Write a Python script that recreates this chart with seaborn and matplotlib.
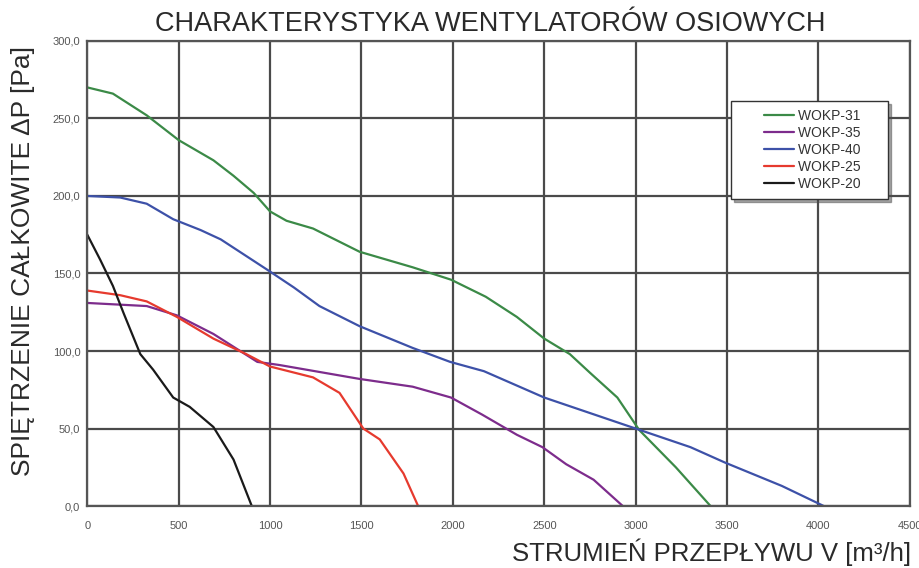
import matplotlib
matplotlib.use("Agg")
import matplotlib.pyplot as plt
import seaborn as sns
import pandas as pd
import numpy as np
from matplotlib.legend_handler import HandlerLine2D

sns.set_theme(style="white")
plt.rcParams['font.family'] = ['Liberation Sans', 'DejaVu Sans']

# --- data ---
wokp31_x = [0, 140, 325, 500, 690, 800, 910, 1000, 1090, 1235, 1490, 1780, 1990, 2180, 2350, 2500, 2640, 2750, 2900, 3020, 3220, 3410]
wokp31_y = [270, 266, 252, 236, 223, 213, 202, 190, 184, 179, 164, 154, 146, 135, 122, 108, 98, 86, 70, 49, 25, 0]

wokp35_x = [0, 325, 490, 690, 930, 1050, 1490, 1780, 1990, 2160, 2350, 2490, 2620, 2770, 2930]
wokp35_y = [131, 129, 123, 111, 93, 91, 82, 77, 70, 59, 46, 38, 27, 17, 0]

wokp40_x = [0, 180, 325, 470, 620, 730, 990, 1130, 1270, 1490, 1780, 1985, 2170, 2500, 3000, 3300, 3490, 3800, 4030]
wokp40_y = [200, 199, 195, 185, 178, 172, 152, 141, 129, 116, 102, 93, 87, 70, 50, 38, 28, 13, 0]

wokp25_x = [0, 180, 325, 490, 690, 870, 1000, 1235, 1380, 1510, 1600, 1730, 1810]
wokp25_y = [139, 136, 132, 122, 108, 98, 90, 83, 73, 50, 43, 21, 0]

wokp20_x = [0, 70, 140, 200, 290, 360, 470, 560, 690, 800, 900]
wokp20_y = [175, 159, 142, 124, 98, 88, 70, 64, 51, 30, 0]

models = ['WOKP-31', 'WOKP-35', 'WOKP-40', 'WOKP-25', 'WOKP-20']
colors = ['#3b8a47', '#7d2c8c', '#3d51a8', '#e63a2e', '#1a1a1a']

series = {
    'WOKP-31': (wokp31_x, wokp31_y),
    'WOKP-35': (wokp35_x, wokp35_y),
    'WOKP-40': (wokp40_x, wokp40_y),
    'WOKP-25': (wokp25_x, wokp25_y),
    'WOKP-20': (wokp20_x, wokp20_y),
}
frames = []
for m in models:
    xs, ys = series[m]
    frames.append(pd.DataFrame({'V': xs, 'dP': ys, 'Model': m}))
df = pd.concat(frames, ignore_index=True)


class RightLineHandler(HandlerLine2D):
    # draw the legend line only in the right part of the handle box
    def create_artists(self, legend, orig_handle, xdescent, ydescent, width, height, fontsize, trans):
        arts = super().create_artists(legend, orig_handle, xdescent, ydescent, width, height, fontsize, trans)
        for a in arts:
            n = len(a.get_ydata())
            if n >= 2:
                a.set_xdata(np.linspace(width * 0.45 - xdescent, width - xdescent, n))
        return arts


fig = plt.figure(figsize=(9.19, 5.68), dpi=100)
ax = fig.add_axes([0.095, 0.109, 0.895, 0.819])

sns.lineplot(data=df, x='V', y='dP', hue='Model', hue_order=models,
             palette=dict(zip(models, colors)), sort=False, estimator=None,
             linewidth=1.6, ax=ax)

ax.set_xlim(0, 4500)
ax.set_ylim(0, 300)
ax.set_xticks(range(0, 4501, 500))
ax.set_yticks(range(0, 301, 50))
ax.set_yticklabels([f"{v:.1f}".replace('.', ',') for v in range(0, 301, 50)])
ax.grid(True, color='#4a4a4a', linewidth=1.6)
ax.set_axisbelow(True)
for s in ax.spines.values():
    s.set_color('#555555')
    s.set_linewidth(1.6)
ax.tick_params(axis='both', length=0, labelsize=8, labelcolor='#555555')
ax.tick_params(axis='x', pad=11)
ax.tick_params(axis='y', pad=5)
ax.set_xlabel('')
ax.set_ylabel('')

fig.text(0.533, 0.958, 'CHARAKTERYSTYKA WENTYLATORÓW OSIOWYCH', ha='center', va='center',
         fontsize=19.5, color='#2a2a2a')
fig.text(0.025, 0.54, 'SPIĘTRZENIE CAŁKOWITE ΔP [Pa]', rotation=90, ha='center', va='center',
         fontsize=19, color='#2a2a2a')
fig.text(0.991, 0.027, 'STRUMIEŃ PRZEPŁYWU V [m³/h]', ha='right', va='center',
         fontsize=18.5, color='#2a2a2a')

handles, labels = ax.get_legend_handles_labels()
leg = ax.legend(handles, [l + '     ' for l in labels],
                loc='upper right', bbox_to_anchor=(0.982, 0.885), fontsize=10,
                frameon=True, fancybox=False, shadow=True, handlelength=4.0,
                borderpad=0.55, labelspacing=0.22, handletextpad=0.3,
                handler_map={h: RightLineHandler() for h in handles})
leg.get_frame().set_edgecolor('#333333')
leg.get_frame().set_linewidth(1.0)
for t in leg.get_texts():
    t.set_color('#333333')

fig.savefig('out.png', dpi=100)
